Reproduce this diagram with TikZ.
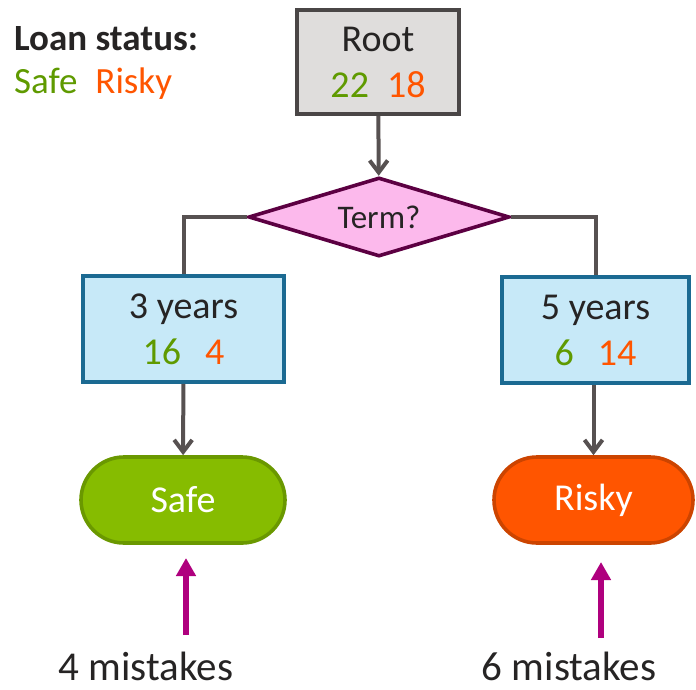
\documentclass[tikz,border=0pt]{standalone}
\usepackage{fontspec}
\setmainfont{Carlito}
\usetikzlibrary{arrows.meta,shapes.geometric}

\definecolor{safetext}{HTML}{5F9A00}
\definecolor{riskytext}{HTML}{FF5500}
\definecolor{inktext}{HTML}{262424}
\definecolor{linkgray}{HTML}{575151}
\definecolor{rootfill}{HTML}{DFDDDC}
\definecolor{rootdraw}{HTML}{4A4646}
\definecolor{termfill}{HTML}{FCB9EC}
\definecolor{termdraw}{HTML}{5C0042}
\definecolor{leaffill}{HTML}{C7E9F8}
\definecolor{leafdraw}{HTML}{1B6A92}
\definecolor{safefill}{HTML}{86BC00}
\definecolor{safedraw}{HTML}{6A9800}
\definecolor{riskyfill}{HTML}{FF5500}
\definecolor{riskydraw}{HTML}{CC4400}
\definecolor{mistake}{HTML}{AF007E}

\newcommand{\tally}[3][18pt]{\textcolor{safetext}{#2}\hspace{#1}\textcolor{riskytext}{#3}}

\begin{document}
\begin{tikzpicture}[x=1pt,y=-1pt]
	\useasboundingbox (0,0) rectangle (696,689);

	\begin{scope}[every node/.style={text=inktext,align=center,line width=3.6pt,
			font=\fontsize{38}{46}\selectfont}]
		\node[draw=rootdraw,fill=rootfill,minimum width=162pt,minimum height=104pt] (root) at (378,62) {Root\\\tally{22}{18}};
		\node[diamond,draw=termdraw,fill=termfill,inner sep=0pt,aspect=3.2,
			minimum width=261pt,minimum height=79pt,font=\fontsize{33}{40}\selectfont] (term) at (379,217) {Term?};
		\node[draw=leafdraw,fill=leaffill,minimum width=201pt,minimum height=106pt] (yr3) at (183.5,329) {3 years\\\tally[24pt]{16}{4}};
		\node[draw=leafdraw,fill=leaffill,minimum width=187pt,minimum height=106pt] (yr5) at (595.5,330) {5 years\\\tally[24pt]{6}{14}};
		\node[draw=safedraw,fill=safefill,text=white,rounded corners=43pt,
			minimum width=204pt,minimum height=86pt] (safe) at (183,500) {Safe};
		\node[draw=riskydraw,fill=riskyfill,text=white,rounded corners=43pt,
			minimum width=199pt,minimum height=86pt] (risky) at (593.5,500) {Risky};

		\node[anchor=base west,font=\bfseries\fontsize{37}{44}\selectfont] (legend) at (9,50) {Loan status:};
		\node[anchor=base west,font=\fontsize{37}{44}\selectfont] (legendkey) at (9,93) {\tally{Safe}{Risky}};

		\node[anchor=base,font=\fontsize{41}{48}\selectfont] (mistL) at (146,680) {4 mistakes};
		\node[anchor=base,font=\fontsize{41}{48}\selectfont] (mistR) at (569,680) {6 mistakes};
	\end{scope}

	\coordinate (tailL) at (186,635);
	\coordinate (tipL) at (186,558);
	\coordinate (tailR) at (601,638);
	\coordinate (tipR) at (601,562);

	\begin{scope}[>={Straight Barb[length=12pt,width=18pt]},
		every path/.style={draw=linkgray,line width=4pt}]
		\path [->] (root) -- (term);
		\path (term.west) -| (yr3.north);
		\path (term.east) -| (yr5.north);
		\path [->] (yr3) -- (safe);
		\path [->] (yr5.south -| risky.north) -- (risky.north);
	\end{scope}

	\begin{scope}[>={Triangle[length=18pt,width=19pt]},
		every path/.style={draw=mistake,fill=mistake,line width=6pt}]
		\path [->] (tailL) -- (tipL);
		\path [->] (tailR) -- (tipR);
	\end{scope}
\end{tikzpicture}
\end{document}
